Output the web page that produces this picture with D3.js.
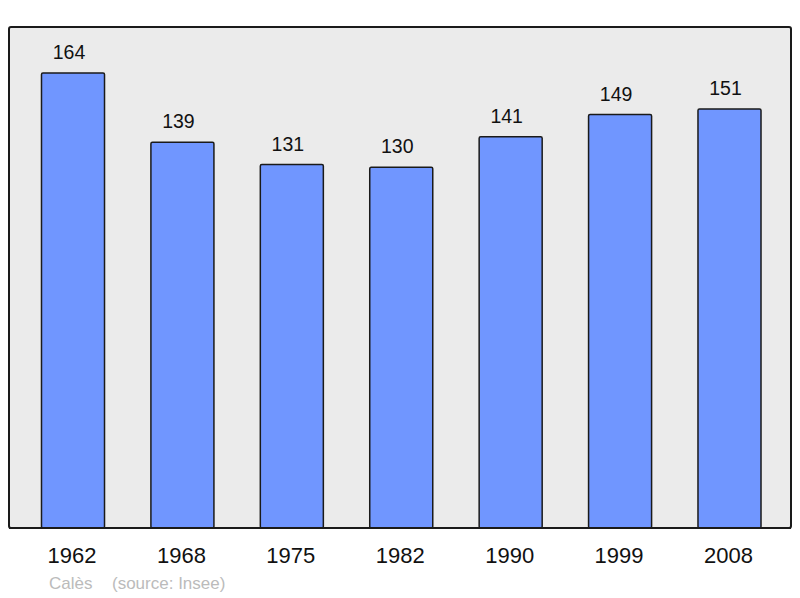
<!DOCTYPE html>
<html><head><meta charset="utf-8">
<script src="https://cdn.jsdelivr.net/npm/d3@7"></script>
<style>body{margin:0;background:#fff}svg{display:block}</style>
</head><body>
<svg id="c" width="800" height="598"></svg>
<script>
const years = ["1962","1968","1975","1982","1990","1999","2008"];
const population = [164,139,131,130,141,149,151];
const commune = "Calès";
const sourceNote = "(source: Insee)";

const svg = d3.select("#c");
const frame = {x0: 9, y0: 27, x1: 791, y1: 528};
const font = "Liberation Sans, Arial, sans-serif";

svg.append("rect").attr("x", frame.x0).attr("y", frame.y0)
  .attr("width", frame.x1 - frame.x0).attr("height", frame.y1 - frame.y0)
  .attr("rx", 2).attr("fill", "#ebebeb").attr("stroke", "#1a1a1a").attr("stroke-width", 2);

const x = d3.scaleBand().domain(years).range([18.3, 784.2]).paddingInner(0.424).paddingOuter(0.212);
const y = d3.scaleLinear().domain([0, 164]).range([frame.y1, 73]);

const data = years.map((yr, i) => ({yr, v: population[i]}));

svg.selectAll("rect.bar").data(data).join("rect").attr("class", "bar")
  .attr("x", d => x(d.yr)).attr("y", d => y(d.v))
  .attr("width", x.bandwidth()).attr("height", d => frame.y1 - y(d.v))
  .attr("rx", 1.5).attr("fill", "#7096ff").attr("stroke", "#1a1a1a").attr("stroke-width", 1.5);

svg.selectAll("text.val").data(data).join("text").attr("class", "val")
  .attr("x", d => x(d.yr) + x.bandwidth() / 2 - 4).attr("y", d => y(d.v) - 14)
  .attr("text-anchor", "middle").attr("font-family", font)
  .attr("font-size", 19.5).attr("fill", "#111").text(d => d.v);

svg.append("line").attr("x1", frame.x0).attr("x2", frame.x1).attr("y1", frame.y1).attr("y2", frame.y1)
  .attr("stroke", "#1a1a1a").attr("stroke-width", 2);

const xAxis = d3.axisBottom(x).tickSize(0).tickPadding(0);
const ax = svg.append("g").attr("transform", `translate(-1,${frame.y1})`).call(xAxis);
ax.select(".domain").remove();
ax.selectAll("text").attr("font-family", font)
  .attr("font-size", 22).attr("fill", "#111").attr("dy", null).attr("y", 35.3);

svg.append("text").attr("x", 49).attr("y", 589)
  .attr("font-family", font).attr("font-size", 17)
  .attr("fill", "#bbbbbb").text(commune);
svg.append("text").attr("x", 112).attr("y", 589)
  .attr("font-family", font).attr("font-size", 17)
  .attr("fill", "#bbbbbb").text(sourceNote);
</script>
</body></html>
